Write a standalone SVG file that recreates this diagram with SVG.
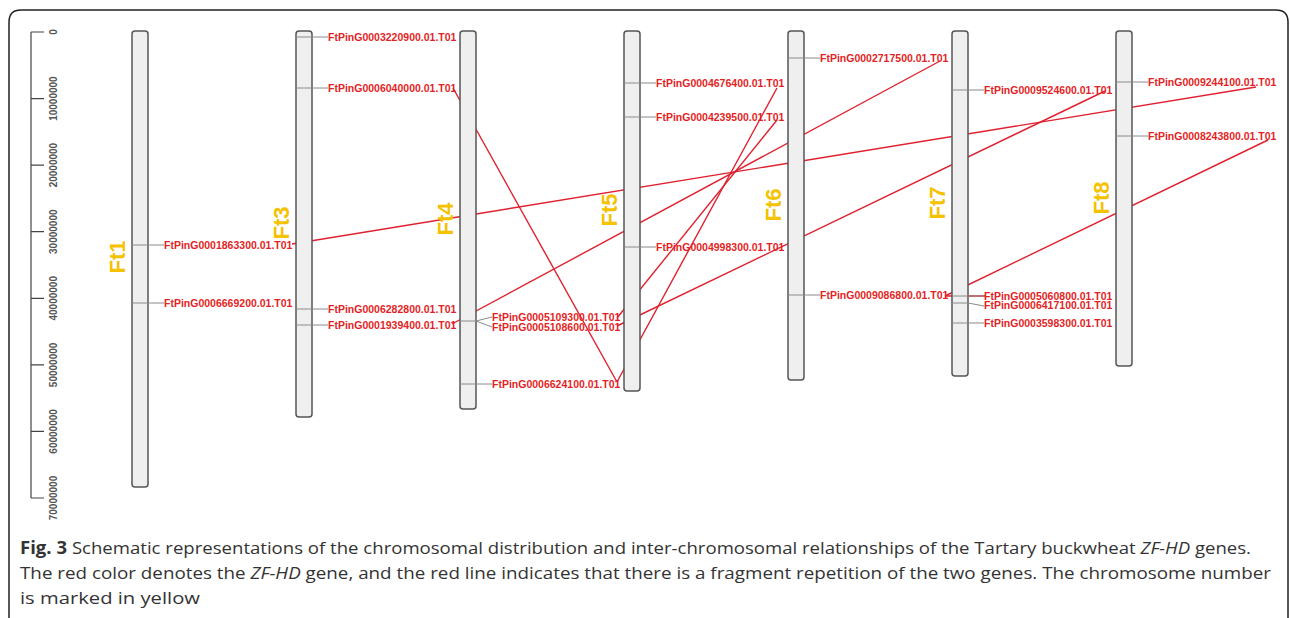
<svg xmlns="http://www.w3.org/2000/svg" width="1290" height="618" viewBox="0 0 1290 618">
<style>
.chr{fill:#efefef;stroke:#555;stroke-width:1.5}
.gl{stroke:#8a8a8a;stroke-width:1;fill:none}
.gt{font-family:"Liberation Sans",Arial,sans-serif;font-weight:bold;font-size:10.5px;fill:#e41f26}
.cl{font-family:"Liberation Sans",Arial,sans-serif;font-weight:bold;font-size:22px;fill:#f5c200;text-anchor:middle}
.ax{font-family:"Liberation Sans",Arial,sans-serif;font-weight:bold;font-size:10px;fill:#555;text-anchor:middle}
.cn{stroke:#e0202e;stroke-width:1.4;fill:none}
.cap{font-family:"Open Sans","Noto Sans",sans-serif;font-size:17px;fill:#333}
</style>
<rect width="1290" height="618" fill="#fff"/>
<path d="M9 618 V22 Q9 10 21 10 H1276 Q1288 10 1288 22 V618" fill="none" stroke="#222" stroke-width="1.5"/>
<g id="axis">
<path d="M31 32 V498 M31 32 H44 M31 98.6 H44 M31 165.1 H44 M31 231.7 H44 M31 298.3 H44 M31 364.9 H44 M31 431.4 H44 M31 498 H44" stroke="#444" stroke-width="1.2" fill="none"/>
<text class="ax" transform="translate(57,32) rotate(-90)">0</text>
<text class="ax" transform="translate(57,98.6) rotate(-90)">10000000</text>
<text class="ax" transform="translate(57,165.1) rotate(-90)">20000000</text>
<text class="ax" transform="translate(57,231.7) rotate(-90)">30000000</text>
<text class="ax" transform="translate(57,298.3) rotate(-90)">40000000</text>
<text class="ax" transform="translate(57,364.9) rotate(-90)">50000000</text>
<text class="ax" transform="translate(57,431.4) rotate(-90)">60000000</text>
<text class="ax" transform="translate(57,498) rotate(-90)">70000000</text>
</g>
<g id="connectors">
<line class="cn" x1="292" y1="244" x2="1256" y2="87"/>
<line class="cn" x1="453" y1="88" x2="617" y2="382"/>
<line class="cn" x1="452" y1="324" x2="940" y2="61"/>
<line class="cn" x1="617" y1="318" x2="777" y2="120"/>
<line class="cn" x1="617" y1="382" x2="777" y2="88"/>
<line class="cn" x1="617" y1="326" x2="1105" y2="91"/>
<line class="cn" x1="945" y1="296" x2="1268" y2="140"/>
<line class="cn" x1="945" y1="296" x2="986" y2="296"/>
</g>
<g id="Ft1">
<rect class="chr" x="132" y="31" width="16" height="456" rx="3"/>
<text class="cl" transform="translate(125,257) rotate(-90)">Ft1</text>
<path class="gl" d="M132 245 H164 M132 303 H164"/>
<text class="gt" x="164" y="248.7">FtPinG0001863300.01.T01</text>
<text class="gt" x="164" y="306.7">FtPinG0006669200.01.T01</text>
</g>
<g id="Ft3">
<rect class="chr" x="296" y="31" width="16" height="386" rx="3"/>
<text class="cl" transform="translate(289,223) rotate(-90)">Ft3</text>
<path class="gl" d="M296 37 H328 M296 88 H328 M296 309 H328 M296 325 H328"/>
<text class="gt" x="328" y="40.7">FtPinG0003220900.01.T01</text>
<text class="gt" x="328" y="91.7">FtPinG0006040000.01.T01</text>
<text class="gt" x="328" y="312.7">FtPinG0006282800.01.T01</text>
<text class="gt" x="328" y="328.7">FtPinG0001939400.01.T01</text>
</g>
<g id="Ft4">
<rect class="chr" x="460" y="31" width="16" height="378" rx="3"/>
<text class="cl" transform="translate(453,219) rotate(-90)">Ft4</text>
<path class="gl" d="M460 321 H476 L492 317 M476 321 L492 327 M460 384 H492"/>
<text class="gt" x="492" y="321">FtPinG0005109300.01.T01</text>
<text class="gt" x="492" y="330.5">FtPinG0005108600.01.T01</text>
<text class="gt" x="492" y="387.7">FtPinG0006624100.01.T01</text>
</g>
<g id="Ft5">
<rect class="chr" x="624" y="31" width="16" height="360" rx="3"/>
<text class="cl" transform="translate(617,210) rotate(-90)">Ft5</text>
<path class="gl" d="M624 83 H656 M624 117 H656 M624 247 H656"/>
<text class="gt" x="656" y="86.7">FtPinG0004676400.01.T01</text>
<text class="gt" x="656" y="120.7">FtPinG0004239500.01.T01</text>
<text class="gt" x="656" y="250.7">FtPinG0004998300.01.T01</text>
</g>
<g id="Ft6">
<rect class="chr" x="788" y="31" width="16" height="349" rx="3"/>
<text class="cl" transform="translate(781,205) rotate(-90)">Ft6</text>
<path class="gl" d="M788 58 H820 M788 295 H820"/>
<text class="gt" x="820" y="61.7">FtPinG0002717500.01.T01</text>
<text class="gt" x="820" y="298.7">FtPinG0009086800.01.T01</text>
</g>
<g id="Ft7">
<rect class="chr" x="952" y="31" width="16" height="345" rx="3"/>
<text class="cl" transform="translate(945,203) rotate(-90)">Ft7</text>
<path class="gl" d="M952 90 H984 M952 296 H984 M952 303 H968 L984 306 M952 323 H984"/>
<text class="gt" x="984" y="299.5">FtPinG0005060800.01.T01</text>
<text class="gt" x="984" y="309.2">FtPinG0006417100.01.T01</text>
<text class="gt" x="984" y="93.7">FtPinG0009524600.01.T01</text>
<text class="gt" x="984" y="326.7">FtPinG0003598300.01.T01</text>
</g>
<g id="Ft8">
<rect class="chr" x="1116" y="31" width="16" height="335" rx="3"/>
<text class="cl" transform="translate(1109,198) rotate(-90)">Ft8</text>
<path class="gl" d="M1116 82 H1148 M1116 136 H1148"/>
<text class="gt" x="1148" y="85.7">FtPinG0009244100.01.T01</text>
<text class="gt" x="1148" y="139.7">FtPinG0008243800.01.T01</text>
</g>
<g id="caption">
<text class="cap" x="20" y="554" textLength="1231" lengthAdjust="spacingAndGlyphs"><tspan font-weight="bold">Fig. 3</tspan> Schematic representations of the chromosomal distribution and inter-chromosomal relationships of the Tartary buckwheat <tspan font-style="italic">ZF-HD</tspan> genes.</text>
<text class="cap" x="20" y="579" textLength="1251" lengthAdjust="spacingAndGlyphs">The red color denotes the <tspan font-style="italic">ZF-HD</tspan> gene, and the red line indicates that there is a fragment repetition of the two genes. The chromosome number</text>
<text class="cap" x="20" y="604" textLength="180" lengthAdjust="spacingAndGlyphs">is marked in yellow</text>
</g>
</svg>
